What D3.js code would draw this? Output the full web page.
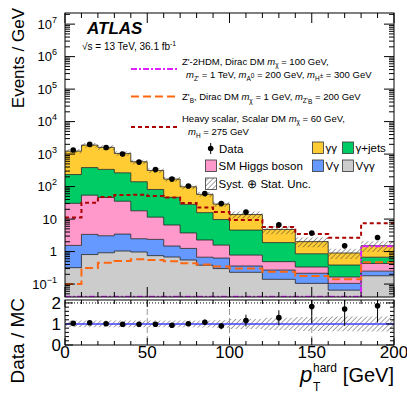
<!DOCTYPE html>
<html>
<head>
<meta charset="utf-8">
<script src="https://cdn.jsdelivr.net/npm/d3@7"></script>
<style>
  body { margin: 0; background: #fff; }
  svg { font-family: "Liberation Sans", Arial, Helvetica, sans-serif; }
</style>
</head>
<body>
<svg id="chart" width="407" height="395"></svg>
<script>
// bin edges in pT hard [GeV]
const binEdges = [0, 10, 20, 30, 40, 50, 60, 70, 80, 90, 100, 120, 140, 160, 180, 200];

// stacked backgrounds, events / GeV (bottom to top)
const vgg    = [0.32, 0.81, 0.92, 1.04, 0.97, 0.75, 0.68, 0.55, 0.38, 0.30, 0.23, 0.14, 0.105, 0.065, 0.18];
const vgamma = [1.23, 2.57, 2.14, 2.41, 1.51, 1.62, 0.80, 0.70, 0.29, 0.33, 0.13, 0.13, 0.11, 0.04, 0.07];
const higgs  = [29, 51, 43, 32, 15.5, 9.1, 5.1, 2.5, 1.6, 0.95, 0.42, 0.22, 0.12, 0.06, 0.18];
const gjets  = [204, 330, 292, 230, 123, 70, 40, 24.6, 13.5, 8.1, 3.8, 1.4, 0.52, 0.22, 0.24];
const gg     = [1000, 1510, 1270, 785, 440, 233, 124, 70, 42, 19.3, 9.2, 2.9, 1.17, 0.52, 0.85];

// observed data
const data = [1330, 1990, 1590, 1000, 567, 334, 170, 104, 61, 30, 16.4, 6.7, 3.7, 1.5, 2.7];

// signal hypotheses
const zp2hdm      = [0.041, 0.041, 0.041, 0.041, 0.041, 0.041, 0.041, 0.041, 0.041, 0.041, 0.041, 0.041, 0.041, 0.041, 1.45];
const zpB         = [0.10, 0.31, 0.45, 0.51, 0.58, 0.55, 0.50, 0.44, 0.40, 0.35, 0.30, 0.24, 0.177, 0.14, 0.47];
const heavyScalar = [11.1, 32, 47.5, 55, 56, 51, 46, 31, 22.6, 16.4, 9.3, 5.7, 3.45, 2.66, 7.4];

// ratio panel
const ratio    = [1.03, 1.06, 1.01, 0.99, 0.99, 0.99, 0.94, 1.01, 1.08, 0.90, 1.16, 1.30, 1.83, 1.71, 1.87];
const ratioErr = [0.06, 0.05, 0.06, 0.06, 0.07, 0.08, 0.09, 0.11, 0.13, 0.15, 0.28, 0.35, 0.8, 0.8, 0.8];
const uncRel   = [0.16, 0.16, 0.16, 0.16, 0.16, 0.16, 0.16, 0.16, 0.17, 0.18, 0.24, 0.29, 0.33, 0.35, 0.36];

// ticks
const xMajor = [0, 50, 100, 150, 200];
const xMinor = d3.range(0, 201, 10);
const yMajorExp = [-1, 0, 1, 2, 3, 4, 5, 6, 7];
const ratioMajor = [0, 1, 2];

// layout
const L = 65, R = 394, mainTop = 13, mainBot = 297, ratTop = 300, ratBot = 345;

const svg = d3.select("#chart");
const x = d3.scaleLinear().domain([0, 200]).range([L, R]);
const y = d3.scaleLog().domain([0.04, 2.2e7]).range([mainBot, mainTop]);
const yr = d3.scaleLinear().domain([0, 2.14]).range([ratBot, ratTop]);
const yc = v => y(Math.max(v, 0.04));

// defs: hatch + clips
const defs = svg.append("defs");
const pat = defs.append("pattern").attr("id", "hatch")
  .attr("width", 3.5).attr("height", 3.5)
  .attr("patternUnits", "userSpaceOnUse")
  .attr("patternTransform", "rotate(45)");
pat.append("line").attr("x1", 0).attr("y1", 0).attr("x2", 0).attr("y2", 3.5)
  .attr("stroke", "#333").attr("stroke-width", 0.9);
defs.append("clipPath").attr("id", "clipMain").append("rect")
  .attr("x", L).attr("y", mainTop).attr("width", R - L).attr("height", mainBot - mainTop);
defs.append("clipPath").attr("id", "clipRatio").append("rect")
  .attr("x", L).attr("y", ratTop).attr("width", R - L).attr("height", ratBot - ratTop);

// table for the stack
const keys = ["vgg", "vgamma", "higgs", "gjets", "gg"];
const colors = { vgg: "#cccccc", vgamma: "#6699ff", higgs: "#ff99cc", gjets: "#00cc66", gg: "#ffcc33" };
const table = data.map((_, i) => ({
  vgg: vgg[i], vgamma: vgamma[i], higgs: higgs[i], gjets: gjets[i], gg: gg[i]
}));
const series = d3.stack().keys(keys)(table);
const total = table.map(d => keys.reduce((s, k) => s + d[k], 0));

const gMain = svg.append("g").attr("clip-path", "url(#clipMain)");

const area = d3.area().x(d => x(d[0])).y0(d => yc(d[1])).y1(d => yc(d[2]));
const line = d3.line().x(d => x(d[0])).y(d => yc(d[1]));
const steps = vals => vals.flatMap((v, i) => [[binEdges[i], v], [binEdges[i + 1], v]]);

series.forEach(s => {
  const pts = s.flatMap((d, i) => [[binEdges[i], d[0], d[1]], [binEdges[i + 1], d[0], d[1]]]);
  gMain.append("path").attr("d", area(pts)).attr("fill", colors[s.key]);
});
series.forEach(s => {
  gMain.append("path").attr("d", line(steps(s.map(d => d[1]))))
    .attr("fill", "none").attr("stroke", "#222").attr("stroke-width", 0.8);
});

// uncertainty band on the total
const band = total.flatMap((t, i) => [
  [binEdges[i], t * (1 - uncRel[i]), t * (1 + uncRel[i])],
  [binEdges[i + 1], t * (1 - uncRel[i]), t * (1 + uncRel[i])]
]);
gMain.append("path").attr("d", area(band)).attr("fill", "url(#hatch)");

// signals
const sigStyle = [
  { vals: zp2hdm, color: "#dd22ff", dash: "6,2,2,2" },
  { vals: zpB, color: "#ff6611", dash: "8,4" },
  { vals: heavyScalar, color: "#aa0000", dash: "4,3" }
];
sigStyle.forEach(s => {
  gMain.append("path").attr("d", line(steps(s.vals)))
    .attr("fill", "none").attr("stroke", s.color).attr("stroke-width", 2)
    .attr("stroke-dasharray", s.dash);
});

// data points
const mid = i => (binEdges[i] + binEdges[i + 1]) / 2;
gMain.selectAll("circle.data").data(data).join("circle")
  .attr("cx", (d, i) => x(mid(i))).attr("cy", d => y(d)).attr("r", 2.8).attr("fill", "#000");

// frame + ticks
function ticksX(yPos, dir, majorLen, minorLen) {
  svg.append("g").attr("transform", `translate(0,${yPos})`)
    .call(g => g.selectAll("line").data(xMinor).join("line")
      .attr("x1", d => x(d)).attr("x2", d => x(d)).attr("y1", 0)
      .attr("y2", d => dir * (xMajor.includes(d) ? majorLen : minorLen))
      .attr("stroke", "#000"));
}
function ticksY(scale, xPos, dir, majors, minors, majorLen, minorLen) {
  const g = svg.append("g");
  g.selectAll("line.mj").data(majors).join("line")
    .attr("x1", xPos).attr("x2", xPos + dir * majorLen)
    .attr("y1", d => scale(d)).attr("y2", d => scale(d)).attr("stroke", "#000");
  g.selectAll("line.mn").data(minors).join("line")
    .attr("x1", xPos).attr("x2", xPos + dir * minorLen)
    .attr("y1", d => scale(d)).attr("y2", d => scale(d)).attr("stroke", "#000");
}

const yMajors = yMajorExp.map(e => Math.pow(10, e));
const yMinors = [];
d3.range(-2, 8).forEach(e => d3.range(2, 10).forEach(k => {
  const v = k * Math.pow(10, e);
  if (v > 0.04 && v < 2.2e7) yMinors.push(v);
}));

ticksX(mainBot, -1, 10, 5);
ticksX(mainTop, 1, 10, 5);
ticksY(y, L, 1, yMajors, yMinors, 10, 5);
ticksY(y, R, -1, yMajors, yMinors, 10, 5);
svg.append("rect").attr("x", L).attr("y", mainTop).attr("width", R - L).attr("height", mainBot - mainTop)
  .attr("fill", "none").attr("stroke", "#000");

// y tick labels (log)
yMajorExp.forEach(e => {
  const t = svg.append("text").attr("x", 57).attr("y", y(Math.pow(10, e)) + 4.5)
    .attr("text-anchor", "end").attr("font-size", 13);
  if (e === 0) t.text("1");
  else if (e === 1) t.text("10");
  else {
    t.append("tspan").text("10");
    t.append("tspan").attr("dy", -6).attr("font-size", 9).text(e < 0 ? "\u2212" + (-e) : e);
  }
});

// ratio panel
const gRat = svg.append("g").attr("clip-path", "url(#clipRatio)");
const rBand = uncRel.flatMap((u, i) => [[binEdges[i], 1 - u, 1 + u], [binEdges[i + 1], 1 - u, 1 + u]]);
gRat.append("path")
  .attr("d", d3.area().x(d => x(d[0])).y0(d => yr(d[1])).y1(d => yr(d[2]))(rBand))
  .attr("fill", "url(#hatch)");
xMajor.slice(1, -1).forEach(v => {
  gRat.append("line").attr("x1", x(v)).attr("x2", x(v)).attr("y1", ratTop).attr("y2", ratBot)
    .attr("stroke", "#999").attr("stroke-dasharray", "6,3");
});
gRat.append("line").attr("x1", L).attr("x2", R).attr("y1", yr(1)).attr("y2", yr(1))
  .attr("stroke", "#4040ff").attr("stroke-width", 1.6);
gRat.append("line").attr("x1", L).attr("x2", R).attr("y1", yr(2)).attr("y2", yr(2))
  .attr("stroke", "#000").attr("stroke-dasharray", "1,2");
ratio.forEach((r, i) => {
  gRat.append("line").attr("x1", x(mid(i))).attr("x2", x(mid(i)))
    .attr("y1", yr(r - ratioErr[i])).attr("y2", yr(r + ratioErr[i]))
    .attr("stroke", "#000").attr("stroke-width", 1);
  gRat.append("circle").attr("cx", x(mid(i))).attr("cy", yr(r)).attr("r", 2.8).attr("fill", "#000");
});

ticksX(ratBot, -1, 7, 4);
ticksX(ratTop, 1, 7, 4);
const rMinors = d3.range(0.2, 2.14, 0.2).filter(v => Math.abs(v - 1) > 0.01 && Math.abs(v - 2) > 0.01);
ticksY(yr, L, 1, ratioMajor, rMinors, 8, 4);
ticksY(yr, R, -1, ratioMajor, rMinors, 8, 4);
svg.append("rect").attr("x", L).attr("y", ratTop).attr("width", R - L).attr("height", ratBot - ratTop)
  .attr("fill", "none").attr("stroke", "#000");

ratioMajor.forEach(v => {
  svg.append("text").attr("x", 61).attr("y", yr(v) + 6).attr("text-anchor", "end")
    .attr("font-size", 17).text(v);
});
xMajor.forEach(v => {
  svg.append("text").attr("x", x(v)).attr("y", 358).attr("text-anchor", "middle")
    .attr("font-size", 17).text(v);
});

// axis titles
svg.append("text").attr("transform", "translate(24,8) rotate(-90)").attr("text-anchor", "end")
  .attr("font-size", 17).text("Events / GeV");
svg.append("text").attr("transform", "translate(24,298) rotate(-90)").attr("text-anchor", "end")
  .attr("font-size", 19).text("Data / MC");
svg.append("text").attr("x", 394).attr("y", 382).attr("text-anchor", "end").attr("font-size", 20).text("[GeV]");
svg.append("text").attr("x", 300).attr("y", 382).attr("font-size", 22).attr("font-style", "italic").text("p");
svg.append("text").attr("x", 313).attr("y", 372).attr("font-size", 12).text("hard");
svg.append("text").attr("x", 313).attr("y", 391).attr("font-size", 12).text("T");

// rich text helper: kinds "", "i", "_", "__", "^", "_^"
function rich(xp, yp, size, parts) {
  const t = svg.append("text").attr("x", xp).attr("y", yp).attr("font-size", size);
  let cur = 0;
  const off = { "": 0, "i": 0, "_": 2.5, "__": 4, "^": -4, "_^": -0.5 };
  parts.forEach(([s, k]) => {
    const o = off[k];
    const sp = t.append("tspan").attr("dy", o - cur).text(s);
    cur = o;
    if (k === "i") sp.attr("font-style", "italic");
    if (k !== "" && k !== "i") sp.attr("font-size", size * 0.68);
  });
  return t;
}

// ATLAS label
svg.append("text").attr("x", 87).attr("y", 33.5).attr("font-size", 17)
  .attr("font-weight", "bold").attr("font-style", "italic").text("ATLAS");
rich(82, 50, 10, [["\u221As = 13 TeV, 36.1 fb", ""], ["-1", "^"]]);

// signal legend
const legLines = [
  { yl: 69, s: sigStyle[0] },
  { yl: 96.5, s: sigStyle[1] },
  { yl: 127, s: sigStyle[2] }
];
legLines.forEach(d => {
  svg.append("line").attr("x1", 131).attr("x2", 177).attr("y1", d.yl).attr("y2", d.yl)
    .attr("stroke", d.s.color).attr("stroke-width", 2).attr("stroke-dasharray", d.s.dash);
});
rich(182, 64.5, 9.5, [["Z'-2HDM, Dirac DM ", ""], ["m", "i"], ["\u03C7", "_"], [" = 100 GeV,", ""]]);
rich(186, 78, 9.5, [["m", "i"], ["Z'", "_"], [" = 1 TeV, ", ""], ["m", "i"], ["A", "_"], ["0", "_^"],
  [" = 200 GeV, ", ""], ["m", "i"], ["H", "_"], ["\u00B1", "_^"], [" = 300 GeV", ""]]);
rich(182, 100, 9.5, [["Z'", ""], ["B", "_"], [", Dirac DM ", ""], ["m", "i"], ["\u03C7", "_"],
  [" = 1 GeV, ", ""], ["m", "i"], ["Z'", "_"], ["B", "__"], [" = 200 GeV", ""]]);
rich(182, 121.5, 9.5, [["Heavy scalar, Scalar DM ", ""], ["m", "i"], ["\u03C7", "_"], [" = 60 GeV,", ""]]);
rich(188, 135, 9.5, [["m", "i"], ["H", "_"], [" = 275 GeV", ""]]);

// background legend
svg.append("line").attr("x1", 210.7).attr("x2", 210.7).attr("y1", 143).attr("y2", 154).attr("stroke", "#000");
svg.append("circle").attr("cx", 210.7).attr("cy", 148.5).attr("r", 2.8).attr("fill", "#000");
svg.append("text").attr("x", 219).attr("y", 152.5).attr("font-size", 11.5).text("Data");
const boxes = [
  { x: 205.5, y: 160, fill: colors.higgs, label: "SM Higgs boson" },
  { x: 205.5, y: 178, fill: "url(#hatch)", label: "Syst. \u2295 Stat. Unc." },
  { x: 312.5, y: 142, fill: colors.gg, label: "\u03B3\u03B3" },
  { x: 342.5, y: 142, fill: colors.gjets, label: "\u03B3+jets" },
  { x: 312.5, y: 160, fill: colors.vgamma, label: "V\u03B3" },
  { x: 342.5, y: 160, fill: colors.vgg, label: "V\u03B3\u03B3" }
];
boxes.forEach(b => {
  svg.append("rect").attr("x", b.x).attr("y", b.y).attr("width", 11).attr("height", 11.5)
    .attr("fill", b.fill).attr("stroke", "#333").attr("stroke-width", 0.8);
  svg.append("text").attr("x", b.x + 13).attr("y", b.y + 10).attr("font-size", 11.5).text(b.label);
});
</script>
</body>
</html>
